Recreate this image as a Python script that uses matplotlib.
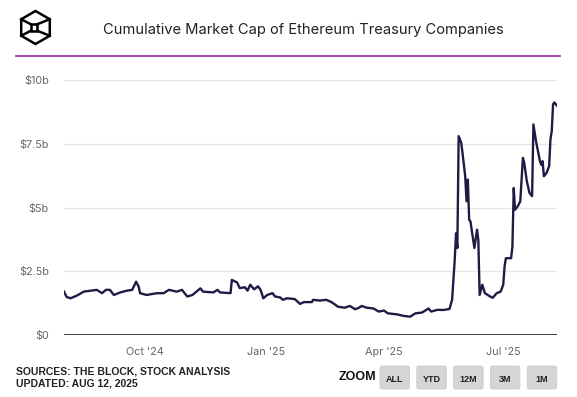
import matplotlib
matplotlib.use("Agg")
import matplotlib.pyplot as plt
import numpy as np
import pandas as pd
from matplotlib.patches import FancyBboxPatch, Polygon, Rectangle

# cumulative market cap, $ billions
dates = [
    "2024-07-31", "2024-08-02", "2024-08-05", "2024-08-10", "2024-08-15", "2024-08-25",
    "2024-08-29", "2024-09-01", "2024-09-04", "2024-09-07", "2024-09-12", "2024-09-17",
    "2024-09-21", "2024-09-24", "2024-09-26", "2024-09-27", "2024-10-02", "2024-10-10",
    "2024-10-15", "2024-10-19", "2024-10-25", "2024-10-29", "2024-11-02", "2024-11-06",
    "2024-11-12", "2024-11-14", "2024-11-22", "2024-11-25", "2024-11-27", "2024-12-05",
    "2024-12-06", "2024-12-10", "2024-12-12", "2024-12-16", "2024-12-18", "2024-12-20",
    "2024-12-23", "2024-12-26", "2024-12-28", "2024-12-30", "2025-01-02", "2025-01-06",
    "2025-01-08", "2025-01-12", "2025-01-14", "2025-01-17", "2025-01-23", "2025-01-27",
    "2025-01-30", "2025-02-05", "2025-02-06", "2025-02-11", "2025-02-16", "2025-02-20",
    "2025-02-25", "2025-03-02", "2025-03-06", "2025-03-10", "2025-03-13", "2025-03-15",
    "2025-03-19", "2025-03-24", "2025-03-28", "2025-04-01", "2025-04-04", "2025-04-11",
    "2025-04-16", "2025-04-21", "2025-04-25", "2025-04-30", "2025-05-05", "2025-05-07",
    "2025-05-12", "2025-05-16", "2025-05-21", "2025-05-23", "2025-05-24", "2025-05-25",
    "2025-05-26", "2025-05-27", "2025-05-28", "2025-05-30", "2025-06-02", "2025-06-03",
    "2025-06-04", "2025-06-05", "2025-06-06", "2025-06-09", "2025-06-11", "2025-06-12",
    "2025-06-13", "2025-06-15", "2025-06-17", "2025-06-21", "2025-06-23", "2025-06-26",
    "2025-06-29", "2025-07-01", "2025-07-02", "2025-07-03", "2025-07-07", "2025-07-08",
    "2025-07-09", "2025-07-10", "2025-07-12", "2025-07-14", "2025-07-16", "2025-07-17",
    "2025-07-19", "2025-07-21", "2025-07-23", "2025-07-24", "2025-07-26", "2025-07-29",
    "2025-07-30", "2025-07-31", "2025-08-01", "2025-08-03", "2025-08-05", "2025-08-06",
    "2025-08-07", "2025-08-08", "2025-08-09", "2025-08-11",
]
market_cap = [
    1.71, 1.50, 1.45, 1.56, 1.71, 1.78,
    1.65, 1.78, 1.78, 1.58, 1.68, 1.75,
    1.78, 2.10, 1.90, 1.65, 1.58, 1.65,
    1.65, 1.78, 1.71, 1.78, 1.52, 1.58,
    1.84, 1.71, 1.68, 1.78, 1.68, 1.65,
    2.17, 2.07, 1.85, 1.88, 1.75, 1.98,
    1.80, 1.92, 1.77, 1.45, 1.58, 1.65,
    1.52, 1.48, 1.39, 1.45, 1.42, 1.23,
    1.30, 1.30, 1.39, 1.36, 1.39, 1.30,
    1.12, 1.08, 1.15, 1.02, 1.08, 1.15,
    1.08, 1.05, 0.93, 0.97, 0.86, 0.82,
    0.76, 0.73, 0.86, 0.89, 1.05, 0.93,
    1.00, 0.99, 1.03, 1.39, 2.17, 2.96,
    4.00, 3.42, 7.80, 7.54, 6.23, 5.25,
    6.10, 4.53, 4.46, 3.42, 4.14, 3.74,
    1.58, 1.98, 1.65, 1.52, 1.47, 1.65,
    1.71, 1.98, 2.69, 3.02, 3.02, 3.48,
    5.77, 4.92, 5.05, 5.25, 6.95, 6.76,
    6.03, 5.58, 5.45, 8.26, 7.60, 6.82,
    6.68, 6.82, 6.23, 6.36, 6.62, 7.67,
    8.00, 9.05, 9.12, 8.99,
]
y_ticks = [0, 2.5, 5, 7.5, 10]
y_labels = ["$0", "$2.5b", "$5b", "$7.5b", "$10b"]
x_ticks = ["2024-10-01", "2025-01-01", "2025-04-01", "2025-07-01"]
x_labels = ["Oct '24", "Jan '25", "Apr '25", "Jul '25"]
zoom_buttons = ["ALL", "YTD", "12M", "3M", "1M"]

W, H = 577, 397
FONT = "Inter"
fig = plt.figure(figsize=(W / 100, H / 100), dpi=100)

# decoration layer in pixel coords
deco = fig.add_axes([0, 0, 1, 1])
deco.set_xlim(0, W)
deco.set_ylim(H, 0)
deco.axis("off")

# logo: hexagon with an inner square tied to four corners
cx, cy, R = 35.5, 27.5, 16.5
ang = np.deg2rad([90, 30, -30, -90, -150, 150])
hx = cx + R * np.cos(ang)
hy = cy - R * np.sin(ang)
deco.add_patch(Polygon(np.c_[hx, hy], closed=True, fill=False, ec="black", lw=1.8,
                       joinstyle="miter"))
sq = 6.5
sx, sy = cx - 1.5 - sq / 2, cy - sq / 2
deco.add_patch(Rectangle((sx, sy), sq, sq, fill=False, ec="black", lw=1.8))
corners = [(sx, sy), (sx + sq, sy), (sx + sq, sy + sq), (sx, sy + sq)]
for (qx, qy), k in zip(corners, [5, 1, 2, 4]):
    deco.plot([qx, hx[k]], [qy, hy[k]], color="black", lw=1.8)

deco.text(303.5, 30, "Cumulative Market Cap of Ethereum Treasury Companies",
          family=FONT, fontsize=10.6, color="#222222", ha="center", va="center")
deco.plot([16, 560], [55.5, 55.5], color="#8e2a9c", lw=1.2)

# footer
deco.text(16, 371, "SOURCES: THE BLOCK, STOCK ANALYSIS", family="Liberation Sans",
          weight="bold", fontsize=7.5, color="#222222", ha="left", va="center")
deco.text(16, 383, "UPDATED: AUG 12, 2025", family="Liberation Sans",
          weight="bold", fontsize=7.5, color="#222222", ha="left", va="center")
deco.text(357, 377, "ZOOM", family="Liberation Sans", weight="bold",
          fontsize=9, color="#111111", ha="center", va="center")
bx0, bw, gap = 380, 29.5, 7.3
for i, lab in enumerate(zoom_buttons):
    x0 = bx0 + i * (bw + gap)
    deco.add_patch(FancyBboxPatch((x0 + 1.5, 367.5), bw - 3, 20,
                                  boxstyle="round,pad=1.5,rounding_size=2",
                                  fc="#d5d5d5", ec="#cccccc", lw=0.6))
    deco.text(x0 + bw / 2, 379.5, lab, family="Liberation Sans", weight="bold",
              fontsize=6.5, color="#222222", ha="center", va="center")

# main chart
ax = fig.add_axes([64 / W, 1 - 335.3 / H, (557 - 64) / W, (335.3 - 80) / H])
ax.set_facecolor("none")
d = pd.to_datetime(dates)
ax.plot(d, market_cap, color="#1f1b45", lw=1.7, solid_joinstyle="round", zorder=3)
ax.set_xlim(d[0], d[-1])
ax.set_ylim(0, 10)
ax.set_yticks(y_ticks)
ax.set_yticklabels(y_labels)
ax.set_xticks(pd.to_datetime(x_ticks))
ax.set_xticklabels(x_labels)
for v in y_ticks[1:]:
    ax.axhline(v, color="#e6e6e6", lw=0.9, zorder=1)
ax.axhline(0, color="#333333", lw=1.3, zorder=2)
for s in ax.spines.values():
    s.set_visible(False)
ax.tick_params(axis="both", length=0, labelsize=7.8, labelcolor="#666666")
ax.tick_params(axis="y", pad=11)
ax.tick_params(axis="x", pad=8.5)
for t in ax.get_xticklabels() + ax.get_yticklabels():
    t.set_family(FONT)

fig.savefig("out.png", dpi=100, facecolor="white")
